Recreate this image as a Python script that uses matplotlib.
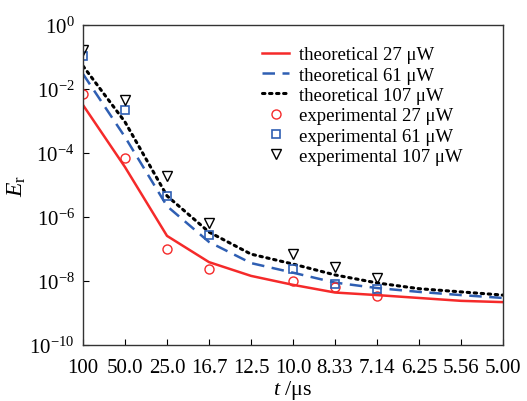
import numpy as np
import matplotlib
matplotlib.use("Agg")
import matplotlib.pyplot as plt

plt.rcParams["font.family"] = ["Liberation Serif", "DejaVu Serif"]
plt.rcParams["mathtext.fontset"] = "custom"
plt.rcParams["mathtext.rm"] = "Liberation Serif"
plt.rcParams["mathtext.it"] = "Liberation Serif:italic"

# t (us) tick labels, equally spaced categories
t_labels = ["100", "50.0", "25.0", "16.7", "12.5", "10.0",
            "8.33", "7.14", "6.25", "5.56", "5.00"]

# theoretical curves, log10(E_r) at each category
theo_27 = [-2.50, -4.44, -6.59, -7.41, -7.84, -8.12, -8.36, -8.44, -8.53, -8.62, -8.66]
theo_61 = [-1.53, -3.50, -5.66, -6.78, -7.44, -7.74, -8.05, -8.22, -8.34, -8.44, -8.53]
theo_107 = [-1.28, -3.03, -5.34, -6.47, -7.16, -7.47, -7.81, -8.06, -8.24, -8.34, -8.44]

# experimental points
exp_idx = [0, 1, 2, 3, 5, 6, 7]
exp_27 = [-2.16, -4.16, -7.00, -7.63, -8.00, -8.19, -8.47]
exp_61 = [-0.97, -2.66, -5.34, -6.56, -7.63, -8.09, -8.25]
exp_107 = [-0.78, -2.34, -4.72, -6.19, -7.16, -7.56, -7.91]

x = np.arange(len(t_labels))

fig = plt.figure(figsize=(5.27, 4.02), dpi=100)
ax = fig.add_axes([0.1575, 0.1393, 0.797, 0.796])

red = "#f52a2a"
blue = "#2f5fb3"

ax.plot(x, 10 ** np.array(theo_27), color=red, lw=1.8, ls="-",
        label="theoretical 27 \u03bcW")
ax.plot(x, 10 ** np.array(theo_61), color=blue, lw=1.8, ls=(0, (5, 3)),
        label="theoretical 61 \u03bcW")
ax.plot(x, 10 ** np.array(theo_107), color="black", lw=2.2, ls=(0, (0.8, 1.5)),
        dash_capstyle="round", label="theoretical 107 \u03bcW")

ax.plot(exp_idx, 10 ** np.array(exp_27), ls="none", marker="o", ms=6.5,
        mfc="none", mec=red, mew=1.0, label="experimental 27 \u03bcW")
ax.plot(exp_idx, 10 ** np.array(exp_61), ls="none", marker="s", ms=6,
        mfc="none", mec=blue, mew=1.2, label="experimental 61 \u03bcW")
ax.plot(exp_idx, 10 ** np.array(exp_107), ls="none", marker="v", ms=7,
        mfc="none", mec="black", mew=1.0, label="experimental 107 \u03bcW")

ax.set_yscale("log")
ax.set_ylim(1e-10, 1e0)
ax.set_xlim(0, 10)
ax.set_yticks([1e0, 1e-2, 1e-4, 1e-6, 1e-8, 1e-10])
ax.set_yticklabels([r"$10^{0}$", r"$10^{-2}$", r"$10^{-4}$", r"$10^{-6}$",
                    r"$10^{-8}$", r"$10^{-10}$"])
ax.yaxis.set_minor_locator(matplotlib.ticker.NullLocator())
ax.set_xticks(x)
ax.set_xticklabels(t_labels)

ax.tick_params(direction="in", length=4, width=0.8, labelsize=15)
ax.tick_params(axis="x", pad=9)
ax.tick_params(axis="y", pad=6)
for s in ax.spines.values():
    s.set_linewidth(1.0)
    s.set_color("#333333")

ax.set_xlabel("$t$ /\u03bcs", fontsize=16, labelpad=1)
ax.set_ylabel(r"$E_\mathrm{r}$", fontsize=17, labelpad=1)

ax.legend(loc="upper right", frameon=False, fontsize=13.5, handlelength=1.4,
          handletextpad=0.55, labelspacing=0.17, borderaxespad=0.3,
          bbox_to_anchor=(0.935, 0.975))

fig.savefig("out.png", dpi=100)
